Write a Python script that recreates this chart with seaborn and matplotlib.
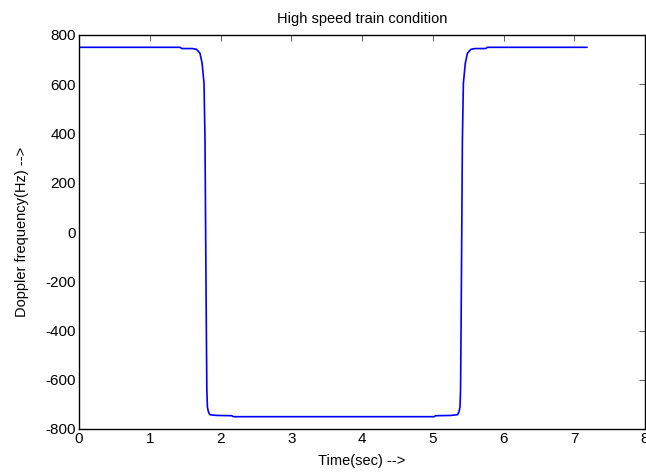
#doppler shift seen by a high speed train passing a base station
#values

import matplotlib
matplotlib.use("Agg")
import matplotlib.pyplot as plt
import seaborn as sns
import pandas as pd

#time in seconds
time_sec = [0.0, 1.43, 1.45, 1.60, 1.66, 1.71, 1.74, 1.767, 1.781, 1.79, 1.80,
            1.807, 1.815, 1.83, 1.85, 1.95, 2.16, 2.18,
            5.02, 5.04, 5.25, 5.35, 5.37, 5.385, 5.393, 5.40, 5.41, 5.419,
            5.433, 5.46, 5.49, 5.54, 5.60, 5.75, 5.77, 7.18]
#doppler frequency in Hz
doppler_hz = [750, 750, 745, 745, 742, 726, 685, 604, 373, 0, -399,
              -643, -711, -731, -742, -745, -746, -750,
              -750, -746, -745, -742, -731, -711, -643, -399, 0, 373,
              604, 685, 726, 742, 745, 745, 750, 750]

x_ticks = [0, 1, 2, 3, 4, 5, 6, 7, 8]
y_ticks = [-800, -600, -400, -200, 0, 200, 400, 600, 800]

df = pd.DataFrame({"t": time_sec, "f": doppler_hz})

sns.set_style("white")
plt.rcParams["font.family"] = ["Liberation Sans", "DejaVu Sans"]
plt.rcParams["axes.unicode_minus"] = False  # matlab style hyphen minus
plt.rcParams["text.color"] = "black"
plt.rcParams["axes.labelcolor"] = "black"

fig = plt.figure(figsize=(6.46, 4.72), dpi=100)
ax = fig.add_axes([79 / 646, 43 / 472, 566 / 646, 394 / 472])

sns.lineplot(data=df, x="t", y="f", color="#0000ff", linewidth=1.2, sort=False, ax=ax)

ax.set_xlim(0, 8)
ax.set_ylim(-800, 800)
ax.set_xticks(x_ticks)
ax.set_yticks(y_ticks)
ax.tick_params(direction="in", length=4, width=0.6, color="#444444",
               top=True, right=True, labelsize=11, pad=2, labelcolor="black")
for s in ax.spines.values():
    s.set_visible(True)
    s.set_color("black")
    s.set_linewidth(1.0)

ax.set_title("High speed train condition", fontsize=10.5, pad=9, color="black")
ax.set_xlabel("Time(sec) -->", fontsize=10.5, labelpad=6)
ax.set_ylabel("Doppler frequency(Hz) -->", fontsize=10.5, labelpad=12)

fig.savefig("out.png", dpi=100)
